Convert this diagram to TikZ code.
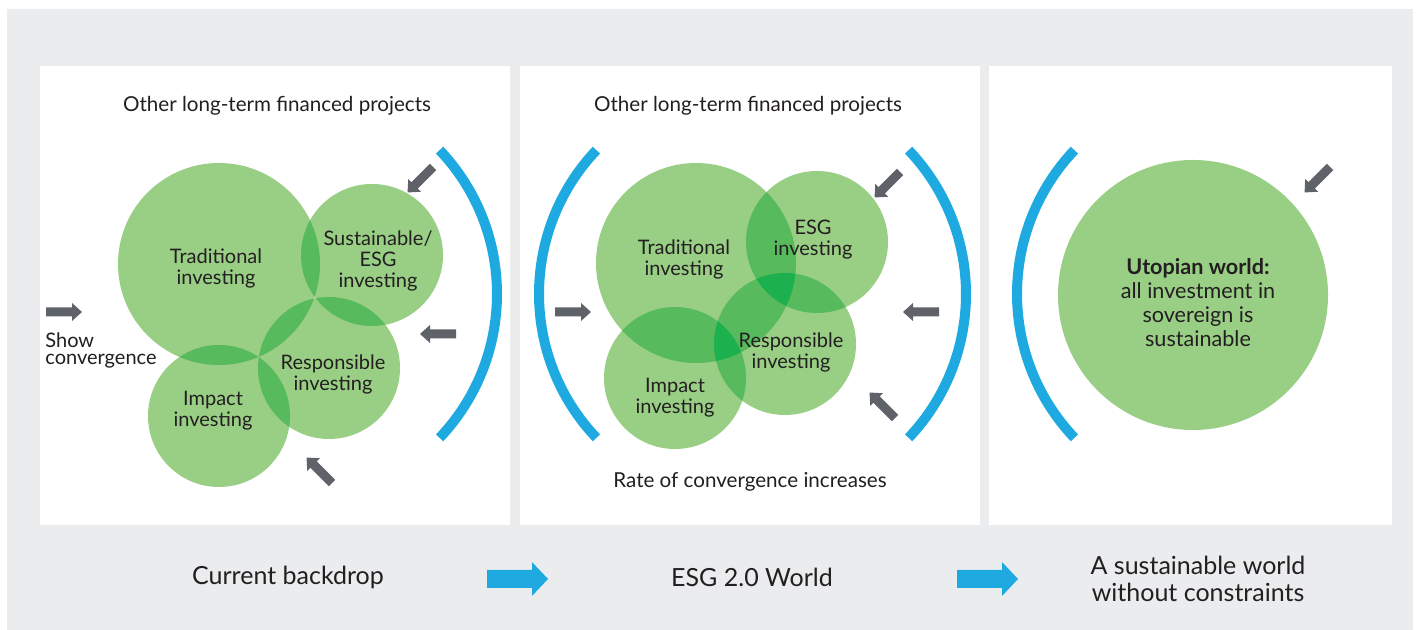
\documentclass[tikz,border=0pt]{standalone}
\usepackage{fontspec}
\setmainfont{Lato}
\definecolor{greybg}{HTML}{EBECEE}
\definecolor{lg}{HTML}{99CE85}
\definecolor{mg}{HTML}{57BA5C}
\definecolor{dg}{HTML}{1DB04F}
\definecolor{arcblue}{HTML}{1EAAE1}
\definecolor{arrowgrey}{HTML}{5F6369}
\definecolor{textcol}{HTML}{231F20}
\begin{document}
\begin{tikzpicture}[x=0.5pt,y=0.5pt,
  lbl/.style={text=textcol, inner sep=0pt, align=center, font=\fontsize{10}{10.5}\selectfont},
  toplbl/.style={text=textcol, inner sep=0pt, font=\fontsize{10.3}{12}\selectfont},
  botlbl/.style={text=textcol, inner sep=0pt, align=center, font=\fontsize{12.5}{13.5}\selectfont},
  utolbl/.style={text=textcol, inner sep=0pt, align=center, font=\fontsize{10.8}{12}\selectfont},
  garrow/.pic={\fill[arrowgrey] (0,-4.5) -- (26,-4.5) -- (26,-9) -- (36,0) -- (26,9) -- (26,4.5) -- (0,4.5) -- cycle;},
  barrow/.pic={\fill[arcblue] (0,-9) -- (45,-9) -- (45,-17) -- (61,0) -- (45,17) -- (45,9) -- (0,9) -- cycle;},
  bracket/.style={draw=arcblue, line width=5pt}
]
\useasboundingbox (0,0) rectangle (1416,630);
% backgrounds
\fill[white] (0,0) rectangle (1416,630);
\fill[greybg] (7,0) rectangle (1413,621);
\fill[white] (40,105) rectangle (510,564);
\fill[white] (520,105) rectangle (980,564);
\fill[white] (989,105) rectangle (1392,564);

% ---------- panel 1 circles ----------
\fill[lg] (219,366) circle[radius=101] (372,375) circle[radius=71] (329,262) circle[radius=71] (219,214) circle[radius=71];
\begin{scope}
  \clip (219,366) circle[radius=101];
  \fill[mg] (372,375) circle[radius=71] (329,262) circle[radius=71] (219,214) circle[radius=71];
\end{scope}
\begin{scope}
  \clip (329,262) circle[radius=71];
  \fill[mg] (372,375) circle[radius=71] (219,214) circle[radius=71];
\end{scope}
\node[lbl] (p1trad) at (216,361.5) {Traditional\\investing};
\node[lbl] (p1sust) at (378,369) {Sustainable/\\ESG\\investing};
\node[lbl] (p1resp) at (333,256) {Responsible\\investing};
\node[lbl] (p1imp) at (213,219.5) {Impact\\investing};
\node[toplbl] (p1top) at (277,524) {Other long-term financed projects};
\node[text=textcol, inner sep=0pt, align=left, anchor=west, font=\fontsize{10}{8.5}\selectfont] (p1show) at (45,280) {Show\\convergence};
\draw[bracket] (288,336) ++(-43.5:209) arc[start angle=-43.5, end angle=43.5, radius=209];
\pic[rotate=225] at (433,463) {garrow};
\pic[rotate=180] at (456,296) {garrow};
\pic[rotate=135] at (332,147) {garrow};
\pic at (46,318) {garrow};

% ---------- panel 2 circles ----------
\fill[lg] (696,367) circle[radius=100] (817,388) circle[radius=71] (785,286) circle[radius=71] (675,252) circle[radius=71];
\begin{scope}
  \clip (696,367) circle[radius=100];
  \fill[mg] (817,388) circle[radius=71] (785,286) circle[radius=71] (675,252) circle[radius=71];
\end{scope}
\begin{scope}
  \clip (785,286) circle[radius=71];
  \fill[mg] (817,388) circle[radius=71] (675,252) circle[radius=71];
\end{scope}
\begin{scope}
  \clip (696,367) circle[radius=100];
  \clip (785,286) circle[radius=71];
  \fill[dg] (817,388) circle[radius=71] (675,252) circle[radius=71];
\end{scope}
\node[lbl] (p2trad) at (684,370.5) {Traditional\\investing};
\node[lbl] (p2esg) at (813,390) {ESG\\investing};
\node[lbl] (p2resp) at (791,278) {Responsible\\investing};
\node[lbl] (p2imp) at (675,232.5) {Impact\\investing};
\node[toplbl] (p2top) at (748,524) {Other long-term financed projects};
\node[toplbl] (p2bot) at (750,148) {Rate of convergence increases};
\draw[bracket] (748,336) ++(136.5:209) arc[start angle=136.5, end angle=223.5, radius=209];
\draw[bracket] (757,336) ++(-43.5:209) arc[start angle=-43.5, end angle=43.5, radius=209];
\pic at (555,318) {garrow};
\pic[rotate=225] at (900,458) {garrow};
\pic[rotate=180] at (939,318) {garrow};
\pic[rotate=135] at (895,212) {garrow};

% ---------- panel 3 ----------
\fill[lg] (1193,335) circle[radius=135];
\node[utolbl] (p3txt) at (1198,327) {\textbf{Utopian world:}\\all investment in\\sovereign is\\sustainable};
\draw[bracket] (1226,336) ++(136.5:209) arc[start angle=136.5, end angle=223.5, radius=209];
\pic[rotate=225] at (1330,463) {garrow};

% ---------- bottom row ----------
\node[botlbl] (b1) at (288,53) {Current backdrop};
\pic at (487,51) {barrow};
\node[botlbl] (b2) at (752,53) {ESG 2.0 World};
\pic at (957,51) {barrow};
\node[botlbl] (b3) at (1198,51) {A sustainable world\\without constraints};
\end{tikzpicture}
\end{document}
